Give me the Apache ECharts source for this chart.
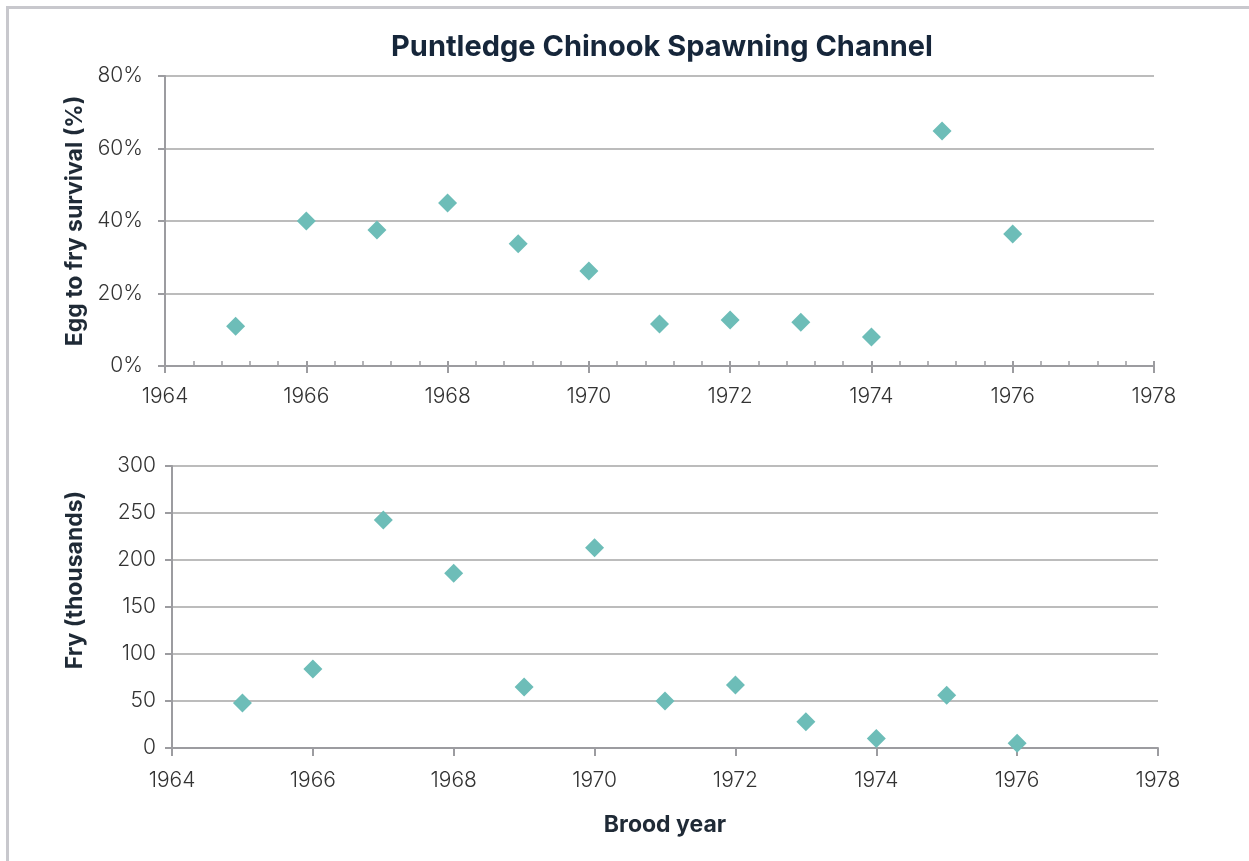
<!DOCTYPE html>
<html>
<head>
<meta charset="utf-8">
<script src="https://cdn.jsdelivr.net/npm/echarts@6/dist/echarts.min.js"></script>
<style>
  html, body { margin: 0; padding: 0; background: #fff; overflow: hidden; }
  #frame {
    position: absolute; left: 6px; top: 6px; width: 1270px; height: 880px;
    border: 3px solid #c8c8cd; box-sizing: border-box;
  }
  #chart { position: absolute; left: 0; top: 0; width: 1249px; height: 861px; }
</style>
</head>
<body>
<div id="frame"></div>
<div id="chart"></div>
<script>
const years = [1965, 1966, 1967, 1968, 1969, 1970, 1971, 1972, 1973, 1974, 1975, 1976]
const survivalPct = [11.0, 40.0, 37.5, 45.0, 33.7, 26.2, 11.6, 12.7, 12.1, 8.0, 64.8, 36.4]
const fryThousands = [48, 84, 242.5, 186, 65, 213, 50, 67, 28, 10, 56, 5]

const axisGray = '#9c9ca0'
const gridGray = '#a6a6a6'
const labelColor = '#333333'
const fontFamily = 'Inter, "Noto Sans", sans-serif'
const markerColor = '#6dbdb8'

var myChart = echarts.init(document.getElementById('chart'))

const labelStyle = { color: labelColor, fontSize: 21, fontFamily: fontFamily, fontWeight: 300 }
const nameStyle = { color: '#1f2a36', fontSize: 23, fontWeight: 'bold', fontFamily: fontFamily }
const yearFormatter = v => String(v)

const option = {
  animation: false,
  title: {
    text: 'Puntledge Chinook Spawning Channel',
    left: 657,
    top: 28,
    textAlign: 'center',
    textStyle: { color: '#16263a', fontSize: 29, fontWeight: 'bold', fontFamily: fontFamily }
  },
  grid: [
    { left: 165, right: 95, top: 76, bottom: 495 },
    { left: 172, right: 91, top: 466, bottom: 113 }
  ],
  xAxis: [
    {
      gridIndex: 0, type: 'value', position: 'bottom', min: 1964, max: 1978, interval: 2,
      axisLine: { show: true, lineStyle: { color: axisGray, width: 2 } },
      axisTick: { show: true, length: 7, lineStyle: { color: axisGray, width: 2 } },
      axisLabel: { ...labelStyle, margin: 20, formatter: yearFormatter },
      splitLine: { show: false }
    },
    {
      gridIndex: 0, type: 'value', position: 'bottom', min: 1964, max: 1978, interval: 2,
      axisLine: { show: false },
      axisTick: { show: true, inside: true, length: 5, lineStyle: { color: axisGray, width: 2 } },
      minorTick: { show: true, splitNumber: 5, length: 5, lineStyle: { color: axisGray, width: 1.5 } },
      axisLabel: { show: false },
      splitLine: { show: false }
    },
    {
      gridIndex: 1, type: 'value', position: 'bottom', min: 1964, max: 1978, interval: 2,
      name: 'Brood year', nameLocation: 'middle', nameGap: 66,
      nameTextStyle: nameStyle,
      axisLine: { show: true, lineStyle: { color: axisGray, width: 2 } },
      axisTick: { show: true, length: 8, lineStyle: { color: axisGray, width: 2 } },
      axisLabel: { ...labelStyle, margin: 22, formatter: yearFormatter },
      splitLine: { show: false }
    }
  ],
  yAxis: [
    {
      gridIndex: 0, type: 'value', min: 0, max: 80, interval: 20,
      name: 'Egg to fry survival (%)', nameLocation: 'middle', nameGap: 78,
      nameTextStyle: nameStyle,
      axisLine: { show: true, lineStyle: { color: axisGray, width: 2 } },
      axisTick: { show: true, length: 7, lineStyle: { color: axisGray, width: 2 } },
      axisLabel: { ...labelStyle, margin: 22, formatter: '{value}%' },
      splitLine: { show: true, lineStyle: { color: gridGray, width: 1.5 } }
    },
    {
      gridIndex: 1, type: 'value', min: 0, max: 300, interval: 50,
      name: 'Fry (thousands)', nameLocation: 'middle', nameGap: 85,
      nameTextStyle: { ...nameStyle, padding: [0, 0, 0, 54] },
      axisLine: { show: true, lineStyle: { color: axisGray, width: 2 } },
      axisTick: { show: true, length: 7, lineStyle: { color: axisGray, width: 2 } },
      axisLabel: { ...labelStyle, margin: 16 },
      splitLine: { show: true, lineStyle: { color: gridGray, width: 1.5 } }
    }
  ],
  series: [
    {
      name: 'Egg to fry survival',
      type: 'scatter',
      xAxisIndex: 0, yAxisIndex: 0,
      symbol: 'diamond', symbolSize: [19, 19],
      itemStyle: { color: markerColor, opacity: 1 },
      data: years.map((y, i) => [y, survivalPct[i]])
    },
    {
      name: 'Fry',
      type: 'scatter',
      xAxisIndex: 2, yAxisIndex: 1,
      symbol: 'diamond', symbolSize: [19, 19],
      itemStyle: { color: markerColor, opacity: 1 },
      data: years.map((y, i) => [y, fryThousands[i]])
    }
  ]
}

myChart.setOption(option)
</script>
</body>
</html>
